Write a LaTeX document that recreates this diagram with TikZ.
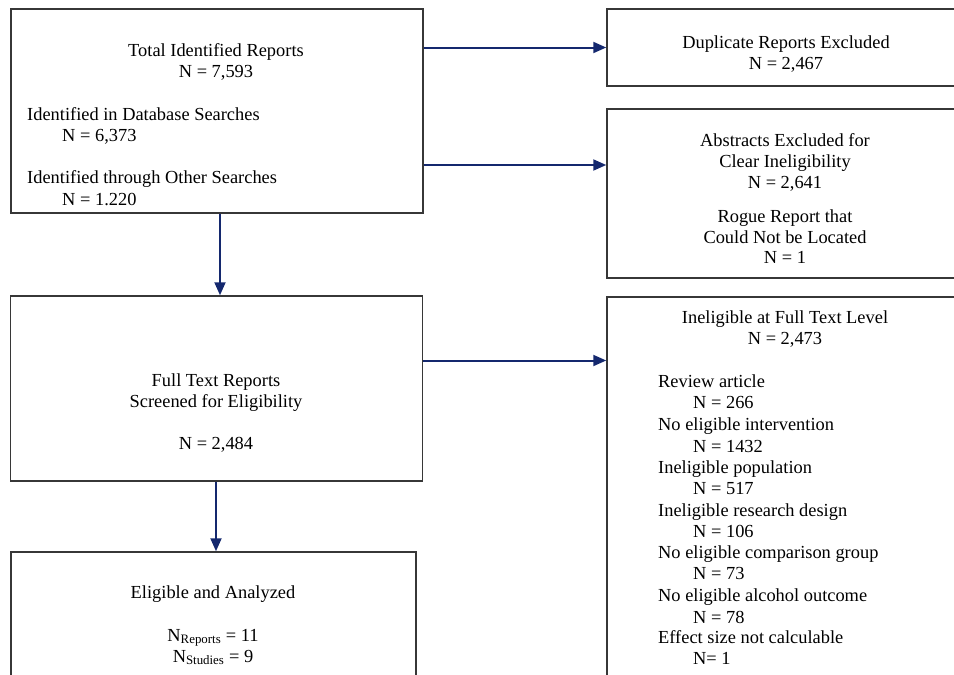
\documentclass[tikz,border=0pt]{standalone}
\usepackage{fontspec}
\setmainfont{Liberation Serif}
\usetikzlibrary{arrows.meta}
\definecolor{navy}{RGB}{20,40,110}
\definecolor{boxgray}{RGB}{55,55,55}
\begin{document}
\begin{tikzpicture}[x=1pt,y=-1pt,
  box/.style={draw=boxgray, line width=1.5pt, inner sep=0pt},
  txt/.style={inner sep=0pt, anchor=base, font=\fontsize{18.4}{21.3}\selectfont},
  txtl/.style={txt, anchor=base west},
  arr/.style={draw=navy, line width=2pt, -{Triangle[length=13pt,width=11pt]}}]
\useasboundingbox (0,0) rectangle (954,675);
\clip (0,0) rectangle (954,675);
% boxes
\node[box, minimum width=412pt, minimum height=204pt] (A) at (217,111) {};
\node[box, minimum width=356pt, minimum height=77pt]  (B) at (785,47.5) {};
\node[box, minimum width=356pt, minimum height=169pt] (C) at (785,193.5) {};
\node[box, minimum width=412pt, minimum height=185pt] (D) at (216.5,388.5) {};
\node[box, minimum width=356pt, minimum height=420pt] (E) at (785,507) {};
\node[box, minimum width=405pt, minimum height=150pt] (F) at (213.5,627) {};
% box A text
\node[txt]  (a1) at (216,56)  {Total Identified Reports};
\node[txt]  (a2) at (216,77)  {N = 7,593};
\node[txtl] (a3) at (27,120)  {Identified in Database Searches};
\node[txtl] (a4) at (62,141)  {N = 6,373};
\node[txtl] (a5) at (27,183)  {Identified through Other Searches};
\node[txtl] (a6) at (62,205)  {N = 1.220};
% box B text
\node[txt] (b1) at (786,48) {Duplicate Reports Excluded};
\node[txt] (b2) at (786,69) {N = 2,467};
% box C text
\node[txt] (c1) at (785,146) {Abstracts Excluded for};
\node[txt] (c2) at (785,167) {Clear Ineligibility};
\node[txt] (c3) at (785,188) {N = 2,641};
\node[txt] (c4) at (785,222) {Rogue Report that};
\node[txt] (c5) at (785,243) {Could Not be Located};
\node[txt] (c6) at (785,263) {N = 1};
% box D text
\node[txt] (d1) at (216,386) {Full Text Reports};
\node[txt] (d2) at (216,407) {Screened for Eligibility};
\node[txt] (d3) at (216,449) {N = 2,484};
% box E text
\node[txt]  (e1)  at (785,323) {Ineligible at Full Text Level};
\node[txt]  (e2)  at (785,344) {N = 2,473};
\node[txtl] (e3)  at (658,387) {Review article};
\node[txtl] (e4)  at (693,408) {N = 266};
\node[txtl] (e5)  at (658,430) {No eligible intervention};
\node[txtl] (e6)  at (693,452) {N = 1432};
\node[txtl] (e7)  at (658,473) {Ineligible population};
\node[txtl] (e8)  at (693,494) {N = 517};
\node[txtl] (e9)  at (658,516) {Ineligible research design};
\node[txtl] (e10) at (693,537) {N = 106};
\node[txtl] (e11) at (658,558) {No eligible comparison group};
\node[txtl] (e12) at (693,579) {N = 73};
\node[txtl] (e13) at (658,601) {No eligible alcohol outcome};
\node[txtl] (e14) at (693,623) {N = 78};
\node[txtl] (e15) at (658,643) {Effect size not calculable};
\node[txtl] (e16) at (693,664) {N= 1};
% box F text
\node[txt] (f1) at (213,598) {Eligible and Analyzed};
\node[txt] (f2) at (213,641) {N\textsubscript{Reports} = 11};
\node[txt] (f3) at (213,662) {N\textsubscript{Studies} = 9};
% connectors
\draw[arr] (B.west -| A.east) -- (B.west);
\draw[arr] ([yshift=-54pt]A.east) -- ([yshift=-54pt]A.east -| C.west);
\draw[arr] ([xshift=3pt]A.south) -- ([xshift=3pt]A.south |- D.north);
\draw[arr] ([yshift=28pt]D.east) -- ([yshift=28pt]D.east -| E.west);
\draw[arr] ([xshift=-0.5pt]D.south) -- ([xshift=-0.5pt]D.south |- F.north);
\end{tikzpicture}
\end{document}
